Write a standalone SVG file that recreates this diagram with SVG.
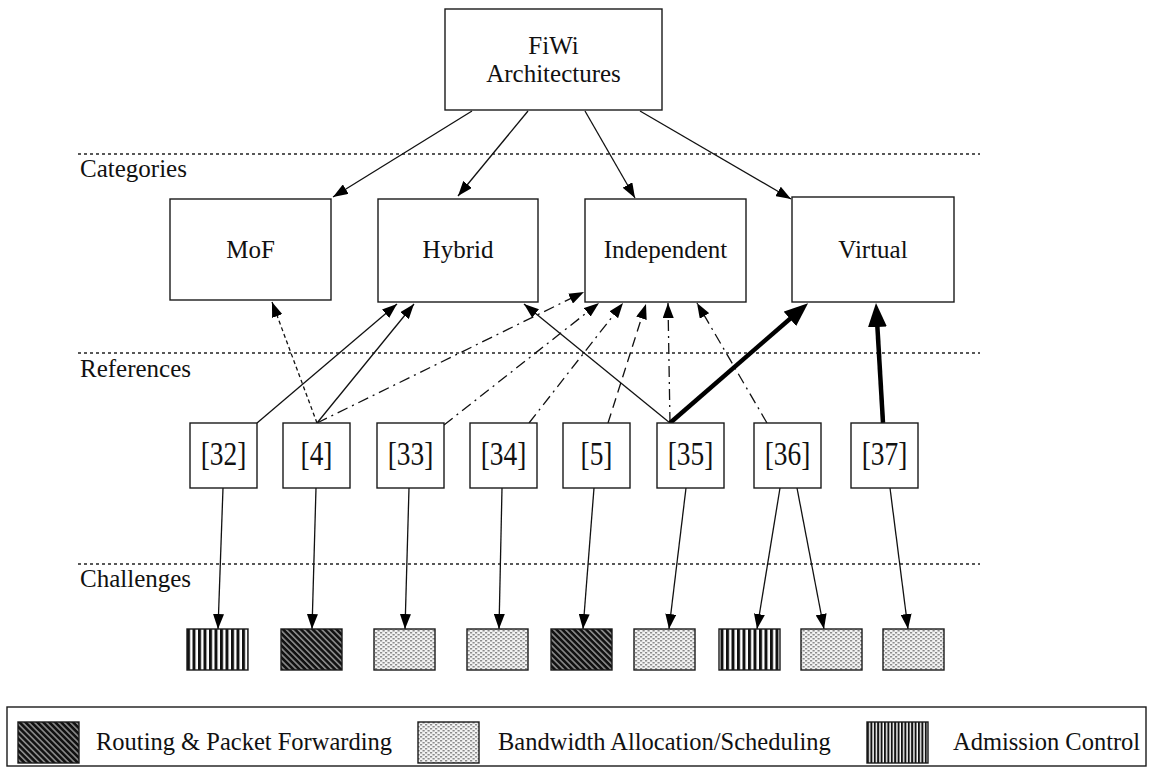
<svg xmlns="http://www.w3.org/2000/svg" width="1153" height="770" viewBox="0 0 1153 770">
  <defs>
    <style>
      .box { fill: #fff; stroke: #1a1a1a; stroke-width: 1.4; }
      .lbl { font-family: "Liberation Serif", "Times New Roman", serif; font-size: 25px; fill: #111; text-anchor: middle; }
      .sec { font-family: "Liberation Serif", "Times New Roman", serif; font-size: 25px; fill: #111; }
      .ref { font-family: "Liberation Serif", "Times New Roman", serif; font-size: 28px; fill: #111; text-anchor: middle; }
      .leg { font-family: "Liberation Serif", "Times New Roman", serif; font-size: 24.5px; fill: #111; }
      .sep { stroke: #222; stroke-width: 1.3; stroke-dasharray: 3 3; fill: none; }
      .c { stroke: #111; stroke-width: 1.3; fill: none; marker-end: url(#ah); }
      .dot { stroke-dasharray: 4 3; }
      .dash { stroke-dasharray: 10 6; }
      .dd { stroke-dasharray: 11 5 2 5; }
      .thick { stroke: #000; stroke-width: 4.5; fill: none; marker-end: url(#ahb); }
      .sw { stroke: #1a1a1a; stroke-width: 1.4; }
    </style>
    <marker id="ah" markerWidth="15" markerHeight="11" refX="15" refY="5.5" orient="auto" markerUnits="userSpaceOnUse">
      <path d="M0,0 L15,5.5 L0,11 z" fill="#000"/>
    </marker>
    <marker id="ahb" markerWidth="24" markerHeight="19" refX="12" refY="9.5" orient="auto" markerUnits="userSpaceOnUse">
      <path d="M0,0 L24,9.5 L0,19 z" fill="#000"/>
    </marker>
    <!-- dark diagonal hatch: routing -->
    <pattern id="pRoute" width="4.2" height="4.2" patternUnits="userSpaceOnUse" patternTransform="rotate(-45)">
      <rect width="4.2" height="4.2" fill="#111"/>
      <rect width="1.6" height="4.2" fill="#8a8a8a"/>
    </pattern>
    <!-- light dotted fill: bandwidth -->
    <pattern id="pBand" width="5" height="4" patternUnits="userSpaceOnUse">
      <rect width="5" height="4" fill="#f3f3f3"/>
      <rect x="0" y="0" width="2.2" height="1.5" fill="#8c8c8c"/>
      <rect x="2.5" y="2" width="2.2" height="1.5" fill="#8c8c8c"/>
    </pattern>
    <!-- vertical stripes: admission control -->
    <pattern id="pAdm" width="5.5" height="10" patternUnits="userSpaceOnUse">
      <rect width="5.5" height="10" fill="#fff"/>
      <rect width="3" height="10" fill="#111"/>
    </pattern>
    <pattern id="pAdmS" width="3.4" height="10" patternUnits="userSpaceOnUse">
      <rect width="3.4" height="10" fill="#fff"/>
      <rect width="2" height="10" fill="#111"/>
    </pattern>
  </defs>

  <rect width="1153" height="770" fill="#fff"/>

  <!-- layer separators -->
  <g id="layers">
    <line class="sep" x1="78" y1="154" x2="980" y2="154"/>
    <line class="sep" x1="78" y1="353" x2="980" y2="353"/>
    <line class="sep" x1="78" y1="564" x2="980" y2="564"/>
    <text class="sec" x="80" y="177">Categories</text>
    <text class="sec" x="80" y="377">References</text>
    <text class="sec" x="80" y="587">Challenges</text>
  </g>

  <!-- connectors -->
  <g id="connectors">
    <line class="c" x1="472" y1="111" x2="333" y2="197"/>
    <line class="c" x1="528" y1="111" x2="458" y2="196"/>
    <line class="c" x1="585" y1="111" x2="635" y2="198"/>
    <line class="c" x1="640" y1="111" x2="791" y2="199"/>

    <line class="c" x1="257" y1="423" x2="397" y2="304"/>
    <line class="c" x1="317" y1="423" x2="414" y2="304"/>
    <line class="c dot" x1="317" y1="423" x2="272" y2="302"/>
    <line class="c dd" x1="317" y1="423" x2="584" y2="292"/>
    <line class="c dd" x1="444" y1="425" x2="599" y2="303"/>
    <line class="c dd" x1="529" y1="423" x2="623" y2="303"/>
    <line class="c dash" x1="608" y1="423" x2="646" y2="304"/>
    <line class="c" x1="670" y1="423" x2="524" y2="304"/>
    <line class="c dd" x1="670" y1="423" x2="668" y2="303"/>
    <line class="c dd" x1="767" y1="423" x2="697" y2="303"/>
    <line class="thick" x1="670" y1="423" x2="799" y2="311"/>
    <line class="thick" x1="883" y1="423" x2="876.7" y2="315"/>

    <line class="c" x1="223" y1="488" x2="218" y2="629"/>
    <line class="c" x1="316" y1="488" x2="312" y2="629"/>
    <line class="c" x1="409" y1="488" x2="405" y2="629"/>
    <line class="c" x1="502" y1="488" x2="499" y2="629"/>
    <line class="c" x1="594" y1="488" x2="583" y2="629"/>
    <line class="c" x1="686" y1="488" x2="669" y2="629"/>
    <line class="c" x1="780" y1="488" x2="757" y2="629"/>
    <line class="c" x1="797" y1="488" x2="824" y2="629"/>
    <line class="c" x1="890" y1="488" x2="908" y2="629"/>
  </g>

  <!-- root -->
  <g id="fiwi">
    <rect class="box" x="445" y="9" width="217" height="101"/>
    <text class="lbl" x="553.5" y="54">FiWi</text>
    <text class="lbl" x="553.5" y="82">Architectures</text>
  </g>

  <!-- categories -->
  <g id="cat-mof">
    <rect class="box" x="170" y="199" width="161" height="101"/>
    <text class="lbl" x="250.5" y="258">MoF</text>
  </g>
  <g id="cat-hybrid">
    <rect class="box" x="378" y="199" width="160" height="103"/>
    <text class="lbl" x="458" y="258">Hybrid</text>
  </g>
  <g id="cat-independent">
    <rect class="box" x="585" y="199" width="161" height="103"/>
    <text class="lbl" x="665.5" y="258">Independent</text>
  </g>
  <g id="cat-virtual">
    <rect class="box" x="792" y="197" width="162" height="105"/>
    <text class="lbl" x="873" y="258">Virtual</text>
  </g>

  <!-- references (labels stretched vertically for a taller digit shape) -->
  <g id="ref-32"><rect class="box" x="190" y="423" width="67" height="65"/><text class="ref" transform="translate(223.5,465) scale(0.98,1.2)">[32]</text></g>
  <g id="ref-4"><rect class="box" x="283" y="423" width="67" height="65"/><text class="ref" transform="translate(316.5,465) scale(0.98,1.2)">[4]</text></g>
  <g id="ref-33"><rect class="box" x="377" y="423" width="67" height="65"/><text class="ref" transform="translate(410.5,465) scale(0.98,1.2)">[33]</text></g>
  <g id="ref-34"><rect class="box" x="470" y="423" width="67" height="65"/><text class="ref" transform="translate(503.5,465) scale(0.98,1.2)">[34]</text></g>
  <g id="ref-5"><rect class="box" x="563" y="423" width="67" height="65"/><text class="ref" transform="translate(596.5,465) scale(0.98,1.2)">[5]</text></g>
  <g id="ref-35"><rect class="box" x="657" y="423" width="67" height="65"/><text class="ref" transform="translate(690.5,465) scale(0.98,1.2)">[35]</text></g>
  <g id="ref-36"><rect class="box" x="754" y="423" width="67" height="65"/><text class="ref" transform="translate(787.5,465) scale(0.98,1.2)">[36]</text></g>
  <g id="ref-37"><rect class="box" x="851" y="423" width="67" height="65"/><text class="ref" transform="translate(884.5,465) scale(0.98,1.2)">[37]</text></g>

  <!-- challenges -->
  <g id="ch-1"><rect class="sw" x="187" y="629" width="61" height="41" fill="url(#pAdm)"/></g>
  <g id="ch-2"><rect class="sw" x="281" y="629" width="61" height="41" fill="url(#pRoute)"/></g>
  <g id="ch-3"><rect class="sw" x="374" y="629" width="61" height="41" fill="url(#pBand)"/></g>
  <g id="ch-4"><rect class="sw" x="467" y="629" width="61" height="41" fill="url(#pBand)"/></g>
  <g id="ch-5"><rect class="sw" x="551" y="629" width="61" height="41" fill="url(#pRoute)"/></g>
  <g id="ch-6"><rect class="sw" x="634" y="629" width="61" height="41" fill="url(#pBand)"/></g>
  <g id="ch-7"><rect class="sw" x="719" y="629" width="61" height="41" fill="url(#pAdm)"/></g>
  <g id="ch-8"><rect class="sw" x="801" y="629" width="61" height="41" fill="url(#pBand)"/></g>
  <g id="ch-9"><rect class="sw" x="883" y="629" width="61" height="41" fill="url(#pBand)"/></g>

  <!-- legend -->
  <g id="legend">
    <rect x="7" y="707" width="1139" height="59" fill="#fff" stroke="#1a1a1a" stroke-width="1.4"/>
    <rect class="sw" x="18" y="722" width="61" height="41" fill="url(#pRoute)"/>
    <text class="leg" x="96" y="750">Routing &amp; Packet Forwarding</text>
    <rect class="sw" x="418" y="722" width="61" height="41" fill="url(#pBand)"/>
    <text class="leg" x="498" y="750">Bandwidth Allocation/Scheduling</text>
    <rect class="sw" x="867" y="722" width="61" height="41" fill="url(#pAdmS)"/>
    <text class="leg" x="953" y="750">Admission Control</text>
  </g>
</svg>
